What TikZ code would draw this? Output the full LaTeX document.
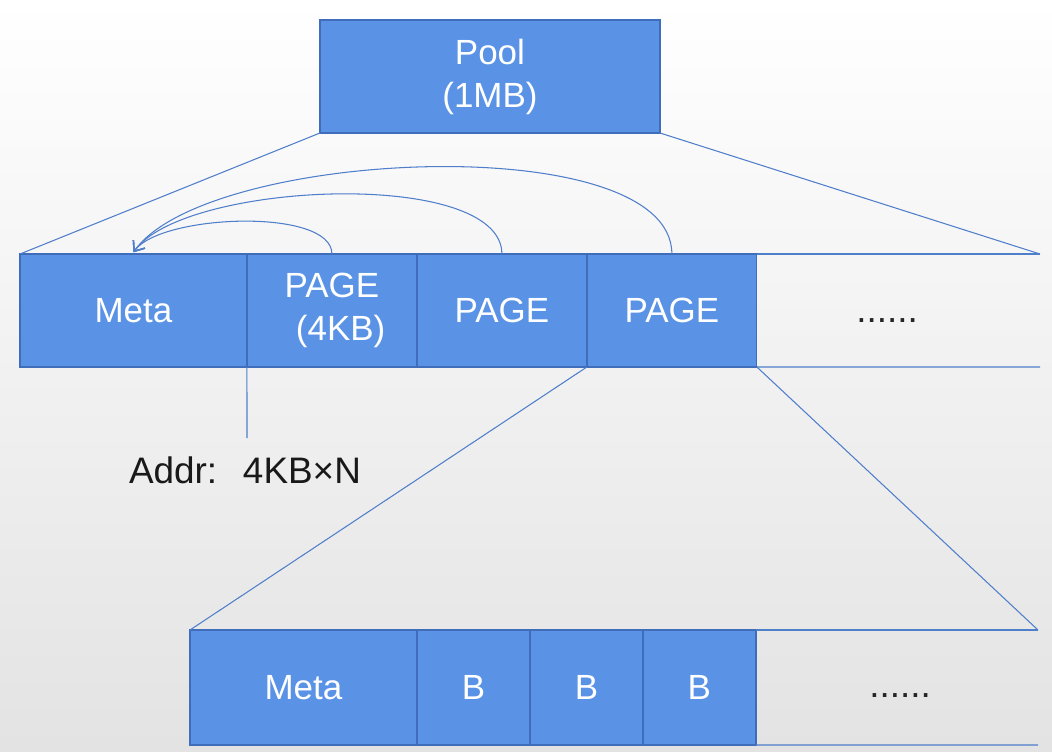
\documentclass[tikz,border=0pt]{standalone}
\usepackage{fontspec}
\setmainfont{Liberation Sans}
\usetikzlibrary{positioning,arrows.meta}
\definecolor{boxblue}{HTML}{5A93E6}
\definecolor{edgeblue}{HTML}{3F6DBA}
\definecolor{lineblue}{HTML}{4F7ECB}
\tikzset{
	cell/.style={
			draw=edgeblue, fill=boxblue, text=white, line width=0.7pt,
			minimum height=2.26cm, inner sep=0pt, outer sep=0pt, align=center,
			font=\fontsize{19.9}{24.5}\selectfont
		},
	link/.style={draw=lineblue, line width=0.6pt},
	backlink/.style={link, -{Straight Barb[length=5pt, width=8pt, line width=0.8pt]}},
	dots/.style={text=black!85, inner sep=0pt, font=\fontsize{21}{24}\selectfont}
}

\begin{document}
\begin{tikzpicture}[x=0.02cm, y=-0.02cm]
			\fill[top color=white, bottom color=black!11] (0, 0) rectangle (1052, 751);
			\useasboundingbox (0, 0) rectangle (1052, 751);

			\node[cell, minimum width=6.8cm, anchor=north west] (pool) at (320, 20) {Pool\\(1MB)};

			\node[cell, minimum width=4.54cm, anchor=north west] (meta) at (20, 254) {Meta};
			\node[cell, minimum width=3.4cm, right=0pt of meta] (page1) {PAGE\\\hspace*{0.5em}(4KB)};
			\node[cell, minimum width=3.4cm, right=0pt of page1] (page2) {PAGE};
			\node[cell, minimum width=3.4cm, right=0pt of page2] (page3) {PAGE};
			\coordinate (topend) at (1040, 254);
			\coordinate (topendlow) at (1040, 367);
			\draw[link] (page3.north east) -- (topend);
			\draw[link] (page3.south east) -- (topendlow);
			\node[dots] (topdots) at (887, 321) {......};

			\draw[link] (pool.south west) -- (meta.north west);
			\draw[link] (pool.south east) -- (topend);

			\foreach \p in {page1, page2, page3}
				\draw[backlink] (\p.north) to[out=90, in=55, looseness=0.6] ([yshift=1pt]meta.north);

			\coordinate (addrtip) at (247, 438);
			\draw[link] (page1.south west) -- (addrtip);
			\node[text=black!90, font=\fontsize{21}{24}\selectfont] (addr) at (245, 470) {Addr:\hspace{0.7em}4KB×N};

			\node[cell, minimum width=4.54cm, minimum height=2.3cm, anchor=north west] (bmeta) at (190, 630) {Meta};
			\node[cell, minimum width=2.26cm, minimum height=2.3cm, right=0pt of bmeta] (blk1) {B};
			\node[cell, minimum width=2.26cm, minimum height=2.3cm, right=0pt of blk1] (blk2) {B};
			\node[cell, minimum width=2.26cm, minimum height=2.3cm, right=0pt of blk2] (blk3) {B};
			\coordinate (btopend) at (1038, 630);
			\coordinate (bendlow) at (1038, 745);
			\draw[link] (blk3.north east) -- (btopend);
			\draw[link] (blk3.south east) -- (bendlow);
			\node[dots] (bdots) at (900, 696) {......};

			\draw[link] (page3.south west) -- (bmeta.north west);
			\draw[link] (page3.south east) -- (btopend);
		\end{tikzpicture}
\end{document}
